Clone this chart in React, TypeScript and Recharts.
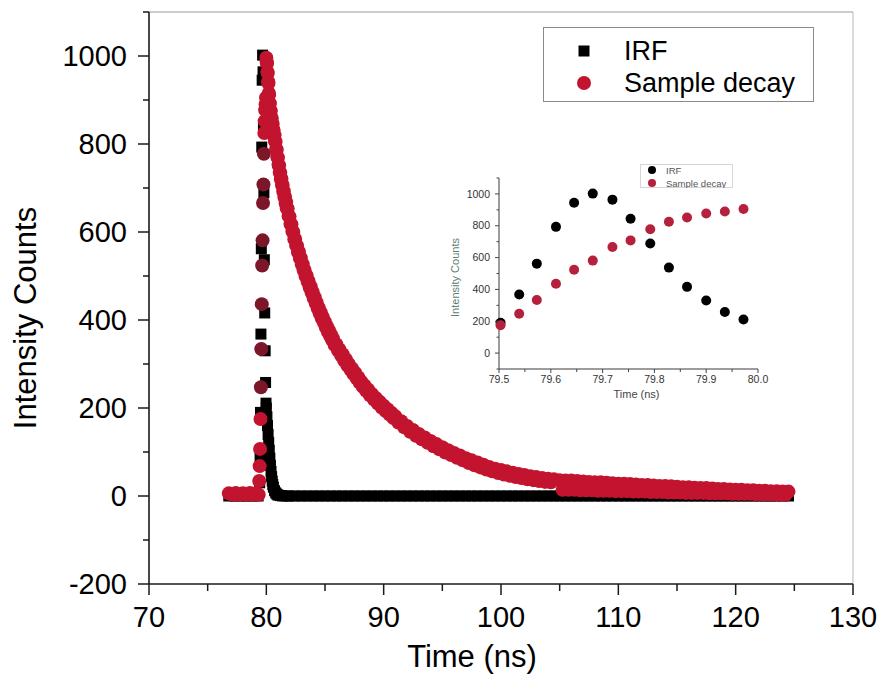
import React from 'react';
import { ScatterChart, Scatter, XAxis, YAxis, ReferenceLine, Legend, Label } from 'recharts';

const FONT = '"Liberation Sans", Arial, Helvetica, sans-serif';
const RED = '#c3142f';
const MAROON = '#7b1729';
const INSET_RED = '#b5203c';

// ---------- axis ticks ----------
const xTicks = [70, 75, 80, 85, 90, 95, 100, 105, 110, 115, 120, 125, 130];
const yTicks = [-200, -100, 0, 100, 200, 300, 400, 500, 600, 700, 800, 900, 1000, 1100];
const insetXTicks = [79.5, 79.55, 79.6, 79.65, 79.7, 79.75, 79.8, 79.85, 79.9, 79.95, 80.0];
const insetYTicks = [-100, 0, 100, 200, 300, 400, 500, 600, 700, 800, 900, 1000, 1100];

// ---------- inset (zoom 79.5 - 80.0 ns) ----------
const insetTime = [79.503, 79.539, 79.573, 79.61, 79.645, 79.681, 79.719, 79.754, 79.792, 79.828, 79.863, 79.9, 79.936, 79.972];
const insetIrf = [190, 368, 562, 793, 945, 1002, 964, 844, 689, 537, 416, 330, 258, 211];
const insetSample = [175, 247, 334, 436, 524, 581, 666, 708, 778, 825, 852, 877, 890, 905];

// ---------- IRF (main) ----------
const irfLeadTime = [76.8, 77.3, 77.8, 78.3, 78.8, 79.3, 79.43, 79.467];
const irfLeadCounts = [0, 0, 0, 0, 0, 0, 30, 90];
const irfTailTime = [80.0, 80.05, 80.1, 80.15, 80.2, 80.25, 80.3, 80.35, 80.4, 80.45, 80.5, 80.55, 80.6, 80.7, 80.8, 80.9, 81.0, 81.2, 81.4, 81.7];
const irfTailCounts = [200, 180, 160, 140, 122, 104, 86, 70, 56, 44, 34, 26, 20, 12, 7, 4, 2, 1, 0, 0];
const irfBaseTime = [
  82, 82.5, 83, 83.5, 84, 84.5, 85, 85.5, 86, 86.5, 87, 87.5, 88, 88.5, 89, 89.5, 90, 90.5, 91, 91.5,
  92, 92.5, 93, 93.5, 94, 94.5, 95, 95.5, 96, 96.5, 97, 97.5, 98, 98.5, 99, 99.5, 100, 100.5, 101, 101.5,
  102, 102.5, 103, 103.5, 104, 104.5, 105, 105.5, 106, 106.5, 107, 107.5, 108, 108.5, 109, 109.5, 110, 110.5, 111, 111.5,
  112, 112.5, 113, 113.5, 114, 114.5, 115, 115.5, 116, 116.5, 117, 117.5, 118, 118.5, 119, 119.5, 120, 120.5, 121, 121.5,
  122, 122.5, 123, 123.5, 124, 124.5,
];
const irfBaseCounts = [
  0, 0, 0, 0, 0, 0, 0, 0, 0, 0, 0, 0, 0, 0, 0, 0, 0, 0, 0, 0,
  0, 0, 0, 0, 0, 0, 0, 0, 0, 0, 0, 0, 0, 0, 0, 0, 0, 0, 0, 0,
  0, 0, 0, 0, 0, 0, 0, 0, 0, 0, 0, 0, 0, 0, 0, 0, 0, 0, 0, 0,
  0, 0, 0, 0, 0, 0, 0, 0, 0, 0, 0, 0, 0, 0, 0, 0, 0, 0, 0, 0,
  0, 0, 0, 0, 0, 0,
];

// ---------- Sample decay (main) ----------
const sampleLeadTime = [76.8, 77.1, 77.4, 77.7, 78.0, 78.3, 78.6, 78.9, 79.15, 79.35, 79.395, 79.431, 79.467];
const sampleLeadCounts = [6, 3, 7, 3, 6, 3, 7, 3, 6, 3, 34, 68, 107];
const sampleDecayTime = [
  80.0, 80.03, 80.06, 80.09, 80.12, 80.15, 80.18, 80.21, 80.24, 80.27,
  80.3, 80.34, 80.38, 80.42, 80.46, 80.5, 80.54, 80.58, 80.62, 80.66,
  80.7, 80.74, 80.79, 80.84, 80.89, 80.94, 80.99, 81.04, 81.09, 81.14,
  81.19, 81.24, 81.29, 81.34, 81.39, 81.44, 81.49, 81.54, 81.59, 81.64,
  81.69, 81.74, 81.82, 81.9, 81.98, 82.06, 82.14, 82.22, 82.3, 82.38,
  82.46, 82.54, 82.62, 82.7, 82.78, 82.86, 82.94, 83.02, 83.1, 83.18,
  83.26, 83.34, 83.43, 83.52, 83.6, 83.69, 83.78, 83.86, 83.95, 84.03,
  84.12, 84.21, 84.29, 84.38, 84.47, 84.55, 84.64, 84.72, 84.81, 84.9,
  84.99, 85.07, 85.16, 85.25, 85.33, 85.42, 85.51, 85.59, 85.68, 85.82,
  85.96, 86.1, 86.23, 86.37, 86.5, 86.63, 86.77, 86.9, 87.03, 87.17,
  87.3, 87.43, 87.57, 87.7, 87.83, 87.97, 88.1, 88.23, 88.37, 88.5,
  88.67, 88.83, 89.0, 89.17, 89.33, 89.5, 89.67, 89.83, 90.0, 90.17,
  90.33, 90.5, 90.67, 90.83, 91.0, 91.25, 91.5, 91.75, 92.0, 92.25,
  92.5, 92.75, 93.0, 93.25, 93.5, 93.75, 94.0, 94.25, 94.5, 94.75,
  95.0, 95.25, 95.5, 95.75, 96.0, 96.25, 96.5, 96.75, 97.0, 97.25,
  97.5, 97.75, 98.0, 98.25, 98.5, 98.75, 99.0, 99.25, 99.5, 99.75,
  100.0, 100.25, 100.5, 100.75, 101.0, 101.25, 101.5, 101.75, 102.0, 102.25,
  102.5, 102.75, 103.0, 103.25, 103.5, 103.75, 104.0, 104.25, 104.5,
];
const sampleDecayCounts = [
  996, 986, 983, 964, 961, 942, 938, 916, 912, 893,
  892, 876, 875, 858, 859, 844, 846, 831, 832, 818,
  820, 806, 805, 788, 787, 770, 769, 752, 751, 735,
  735, 720, 721, 706, 707, 692, 693, 679, 680, 666,
  668, 654, 653, 636, 635, 618, 617, 601, 600, 584,
  584, 569, 569, 554, 555, 540, 541, 526, 527, 513,
  514, 500, 501, 487, 489, 474, 476, 462, 464, 450,
  452, 438, 440, 426, 428, 415, 417, 404, 407, 394,
  396, 383, 386, 373, 377, 364, 367, 355, 358, 343,
  345, 331, 333, 320, 322, 308, 311, 297, 300, 287,
  290, 277, 280, 267, 270, 257, 260, 248, 251, 239,
  242, 229, 232, 219, 223, 210, 214, 201, 205, 193,
  197, 185, 189, 177, 181, 167, 170, 156, 159, 146,
  150, 137, 141, 129, 133, 121, 125, 113, 118, 106,
  111, 99, 104, 93, 98, 87, 92, 81, 86, 75,
  81, 70, 76, 65, 71, 60, 66, 56, 62, 52,
  59, 49, 56, 46, 53, 43, 50, 41, 48, 38,
  45, 36, 43, 34, 41, 32, 39, 31, 38,
];
// tail after ~105 ns: upper and lower edge of the scattered band
const sampleTailUpperTime = [
  105, 105.5, 106, 106.5, 107, 107.5, 108, 108.5, 109, 109.5, 110, 110.5, 111, 111.5, 112, 112.5, 113, 113.5, 114, 114.5,
  115, 115.5, 116, 116.5, 117, 117.5, 118, 118.5, 119, 119.5, 120, 120.5, 121, 121.5, 122, 122.5, 123, 123.5, 124, 124.5,
];
const sampleTailUpperCounts = [
  36, 35, 35, 34, 33, 32, 31, 31, 30, 29, 28, 28, 27, 26, 25, 25, 24, 23, 23, 22,
  21, 20, 20, 19, 18, 18, 17, 16, 16, 15, 14, 14, 13, 13, 12, 12, 11, 11, 10, 10,
];
const sampleTailLowerTime = [
  105.25, 105.75, 106.25, 106.75, 107.25, 107.75, 108.25, 108.75, 109.25, 109.75, 110.25, 110.75, 111.25, 111.75, 112.25, 112.75, 113.25, 113.75, 114.25, 114.75,
  115.25, 115.75, 116.25, 116.75, 117.25, 117.75, 118.25, 118.75, 119.25, 119.75, 120.25, 120.75, 121.25, 121.75, 122.25, 122.75, 123.25, 123.75, 124.25,
];
const sampleTailLowerCounts = [
  14, 14, 14, 13, 13, 13, 12, 12, 12, 11, 11, 11, 10, 10, 10, 9, 9, 9, 8, 8,
  8, 7, 7, 7, 7, 6, 6, 6, 6, 5, 5, 5, 5, 4, 4, 4, 4, 3, 3,
];

const zip = (t: number[], v: number[]) => t.map((x, i) => ({ x, y: v[i] }));

const mainIrf = [...zip(irfLeadTime, irfLeadCounts), ...zip(insetTime, insetIrf), ...zip(irfTailTime, irfTailCounts), ...zip(irfBaseTime, irfBaseCounts)];
const mainSample = [
  ...zip(sampleLeadTime, sampleLeadCounts),
  ...zip(insetTime, insetSample),
  ...zip(sampleDecayTime, sampleDecayCounts),
  ...zip(sampleTailUpperTime, sampleTailUpperCounts),
  ...zip(sampleTailLowerTime, sampleTailLowerCounts),
];
const insetIrfData = zip(insetTime, insetIrf);
const insetSampleData = zip(insetTime, insetSample);

// ---------- shapes ----------
const SquareShape = (p: any) => <rect x={p.cx - 5.5} y={p.cy - 5.5} width={11} height={11} fill="#000" />;
const RedShape = (p: any) => {
  const t = p.payload ? p.payload.x : 0;
  const fill = t > 79.52 && t < 79.8 ? MAROON : RED;
  return <circle cx={p.cx} cy={p.cy} r={7} fill={fill} />;
};
const InsetBlack = (p: any) => <circle cx={p.cx} cy={p.cy} r={5} fill="#000" />;
const InsetRed = (p: any) => <circle cx={p.cx} cy={p.cy} r={5} fill={INSET_RED} />;

// ---------- ticks ----------
const MainXTick = (p: any) => {
  const v = p.payload.value;
  const major = Math.round(v) % 10 === 0;
  return (
    <g>
      <line x1={p.x} x2={p.x} y1={p.y} y2={p.y + (major ? 11 : 7)} stroke="#1a1a1a" strokeWidth={1.5} />
      {major && (
        <text x={p.x} y={p.y + 43} textAnchor="middle" fontSize={29} fontFamily={FONT} fill="#000">
          {v}
        </text>
      )}
    </g>
  );
};
const MainYTick = (p: any) => {
  const v = p.payload.value;
  const major = Math.round(v) % 200 === 0;
  return (
    <g>
      <line x1={p.x} x2={p.x - (major ? 11 : 6)} y1={p.y} y2={p.y} stroke="#1a1a1a" strokeWidth={1.5} />
      {major && (
        <text x={p.x - 22} y={p.y + 10} textAnchor="end" fontSize={29} fontFamily={FONT} fill="#000">
          {v}
        </text>
      )}
    </g>
  );
};
const InsetXTick = (p: any) => {
  const v = p.payload.value;
  const major = Math.round(v * 100) % 10 === 0;
  return (
    <g>
      <line x1={p.x} x2={p.x} y1={p.y} y2={p.y + (major ? 4 : 3)} stroke="#444" strokeWidth={1} />
      {major && (
        <text x={p.x} y={p.y + 14} textAnchor="middle" fontSize={10.5} fontFamily={FONT} fill="#333">
          {v.toFixed(1)}
        </text>
      )}
    </g>
  );
};
const InsetYTick = (p: any) => {
  const v = p.payload.value;
  const major = Math.round(v) % 200 === 0;
  return (
    <g>
      <line x1={p.x} x2={p.x - (major ? 4 : 2.5)} y1={p.y} y2={p.y} stroke="#444" strokeWidth={1} />
      {major && (
        <text x={p.x - 9} y={p.y + 3.6} textAnchor="end" fontSize={10.5} fontFamily={FONT} fill="#333">
          {v}
        </text>
      )}
    </g>
  );
};

// ---------- legends ----------
const MainLegend = () => (
  <div style={{ position: 'relative', width: 271, height: 75, boxSizing: 'border-box', border: '1.5px solid #8a8a8a', background: '#fff' }}>
    <svg width={271} height={75} style={{ position: 'absolute', left: -1.5, top: -1.5 }}>
      <rect x={35.5} y={18.5} width={11} height={11} fill="#000" />
      <circle cx={41} cy={56} r={7} fill={RED} />
      <text x={81} y={33} fontSize={27} fontFamily={FONT} fill="#000">IRF</text>
      <text x={81} y={65} fontSize={27} fontFamily={FONT} fill="#000">Sample decay</text>
    </svg>
  </div>
);
const InsetLegend = () => (
  <div style={{ position: 'relative', width: 93, height: 24, boxSizing: 'border-box', border: '1px solid #d6d6d6', background: '#fff' }}>
    <svg width={93} height={24} style={{ position: 'absolute', left: -1, top: -1 }}>
      <circle cx={12} cy={6} r={4} fill="#000" />
      <circle cx={12} cy={19} r={4} fill={INSET_RED} />
      <text x={26} y={9.5} fontSize={9.5} fontFamily={FONT} fill="#555">IRF</text>
      <text x={26} y={22.5} fontSize={9.5} fontFamily={FONT} fill="#555">Sample decay</text>
    </svg>
  </div>
);

export default function App() {
  return (
    <div style={{ position: 'absolute', left: 0, top: 0, width: 883, height: 676, background: '#fff' }}>
      <ScatterChart width={883} height={676} margin={{ top: 12, right: 30, bottom: 0, left: 0 }}>
        <XAxis
          type="number"
          dataKey="x"
          domain={[70, 130]}
          ticks={xTicks}
          interval={0}
          height={92}
          tickSize={0}
          tickMargin={0}
          tickLine={false}
          axisLine={{ stroke: '#1a1a1a', strokeWidth: 1.6 }}
          tick={(p: any) => <MainXTick {...p} />}
        >
          <Label
            content={(lp: any) => {
              const vb = lp.viewBox || { x: 149, y: 584, width: 704 };
              return (
                <text x={vb.x + vb.width / 2 - 29} y={vb.y + 83} textAnchor="middle" fontSize={31} fontFamily={FONT} fill="#000">
                  Time (ns)
                </text>
              );
            }}
          />
        </XAxis>
        <YAxis
          type="number"
          dataKey="y"
          domain={[-200, 1100]}
          ticks={yTicks}
          interval={0}
          width={149}
          tickSize={0}
          tickMargin={0}
          tickLine={false}
          axisLine={{ stroke: '#1a1a1a', strokeWidth: 1.6 }}
          tick={(p: any) => <MainYTick {...p} />}
        >
          <Label
            content={(lp: any) => {
              const vb = lp.viewBox || { x: 0, y: 12, width: 149, height: 572 };
              const cx = vb.x + 36;
              const cy = vb.y + vb.height / 2 + 20;
              return (
                <text x={cx} y={cy} transform={`rotate(-90 ${cx} ${cy})`} textAnchor="middle" fontSize={31} fontFamily={FONT} fill="#000">
                  Intensity Counts
                </text>
              );
            }}
          />
        </YAxis>
        <ReferenceLine y={1100} stroke="#9a9a9a" strokeWidth={1.2} />
        <ReferenceLine x={130} stroke="#c4c4c4" strokeWidth={1.2} />
        <Scatter name="IRF" data={mainIrf} shape={SquareShape} isAnimationActive={false} />
        <Scatter name="Sample decay" data={mainSample} shape={RedShape} isAnimationActive={false} />
        <Legend
          layout="vertical"
          align="center"
          verticalAlign="middle"
          wrapperStyle={{ position: 'absolute', left: 543, top: 27, width: 271, height: 75 }}
          content={() => <MainLegend />}
        />
      </ScatterChart>

      <div style={{ position: 'absolute', left: 430, top: 155 }}>
        <ScatterChart width={340} height={250} margin={{ top: 23, right: 12, bottom: 0, left: 0 }}>
          <XAxis
            type="number"
            dataKey="x"
            domain={[79.5, 80.0]}
            ticks={insetXTicks}
            interval={0}
            height={36}
            tickSize={0}
            tickMargin={0}
            tickLine={false}
            axisLine={{ stroke: '#3a3a3a', strokeWidth: 1 }}
            tick={(p: any) => <InsetXTick {...p} />}
          >
            <Label
              content={(lp: any) => {
                const vb = lp.viewBox || { x: 69, y: 214, width: 259 };
                return (
                  <text x={vb.x + vb.width / 2 + 8} y={vb.y + 29} textAnchor="middle" fontSize={11} fontFamily={FONT} fill="#444">
                    Time (ns)
                  </text>
                );
              }}
            />
          </XAxis>
          <YAxis
            type="number"
            dataKey="y"
            domain={[-100, 1100]}
            ticks={insetYTicks}
            interval={0}
            width={69}
            tickSize={0}
            tickMargin={0}
            tickLine={false}
            axisLine={{ stroke: '#3a3a3a', strokeWidth: 1 }}
            tick={(p: any) => <InsetYTick {...p} />}
          >
            <Label
              content={(lp: any) => {
                const vb = lp.viewBox || { x: 0, y: 23, width: 69, height: 191 };
                const cx = vb.x + 29;
                const cy = vb.y + vb.height / 2 + 4;
                return (
                  <text x={cx} y={cy} transform={`rotate(-90 ${cx} ${cy})`} textAnchor="middle" fontSize={11} fontFamily={FONT} fill="#5d7f70">
                    Intensity Counts
                  </text>
                );
              }}
            />
          </YAxis>
          <Scatter name="IRF" data={insetIrfData} shape={InsetBlack} isAnimationActive={false} />
          <Scatter name="Sample decay" data={insetSampleData} shape={InsetRed} isAnimationActive={false} />
          <Legend
            layout="vertical"
            align="center"
            verticalAlign="middle"
            wrapperStyle={{ position: 'absolute', left: 210, top: 9, width: 93, height: 24 }}
            content={() => <InsetLegend />}
          />
        </ScatterChart>
      </div>
    </div>
  );
}
